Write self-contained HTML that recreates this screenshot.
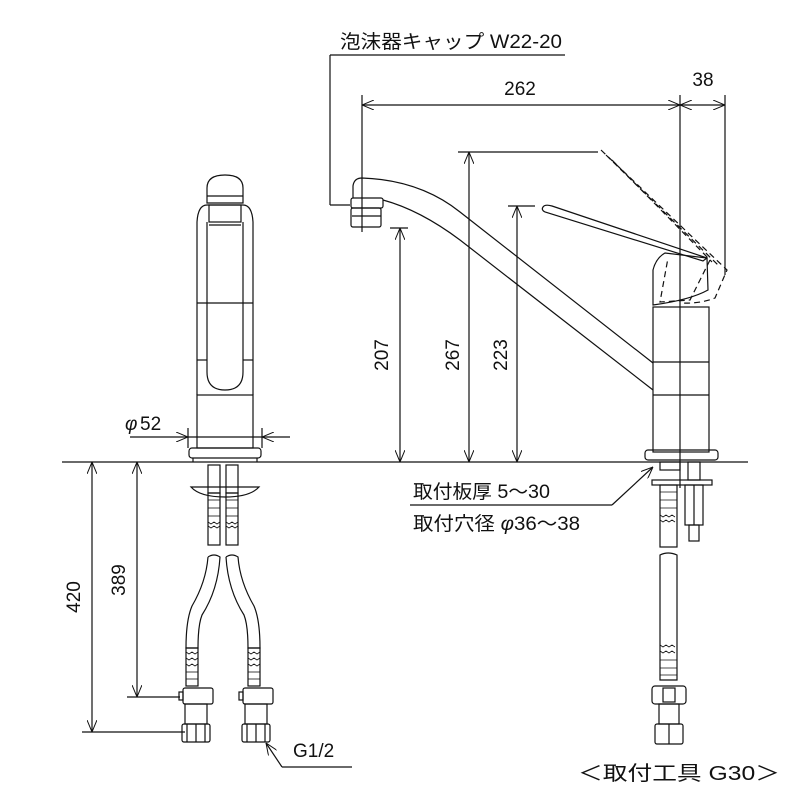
<!DOCTYPE html>
<html><head><meta charset="utf-8"><style>
html,body{margin:0;padding:0;background:#fff;}
svg{display:block;}
text{font-family:"Liberation Sans","Noto Sans CJK JP",sans-serif;fill:#111;}
</style></head><body>
<svg width="800" height="800" viewBox="0 0 800 800" xmlns="http://www.w3.org/2000/svg">
<defs>
<marker id="a" viewBox="0 0 12 10" refX="12" refY="5" markerWidth="12" markerHeight="10" markerUnits="userSpaceOnUse" orient="auto-start-reverse">
<path d="M0,0 L12,5 L0,10" fill="none" stroke="#111" stroke-width="1"/>
</marker>
</defs>
<g fill="none" stroke="#111" stroke-width="1.2">
<line x1="62" y1="462" x2="748" y2="462"/>

<!-- FRONT VIEW -->
<path d="M207,203 L207,188 Q207,175 225,175 Q243,175 243,188 L243,203 Z" fill="#fff"/>
<line x1="207" y1="196" x2="243" y2="196"/>
<path d="M197,303 L197,222 Q198,205 207,205 L243,205 Q252,205 253,222 L253,303"/>
<rect x="209" y="205" width="32" height="17"/>
<line x1="209" y1="225" x2="241" y2="225"/>
<line x1="197" y1="303" x2="253" y2="303"/>
<line x1="197" y1="303" x2="197" y2="395"/>
<line x1="253" y1="303" x2="253" y2="395"/>
<line x1="197" y1="360" x2="207" y2="360"/><line x1="243" y1="360" x2="253" y2="360"/>
<path d="M207,222 L207,372 Q207,390 225,390 Q243,390 243,372 L243,222"/>
<rect x="197" y="395" width="56" height="53"/>
<rect x="189" y="448" width="72" height="10" rx="3"/>
<line x1="193" y1="458" x2="193" y2="462"/><line x1="257" y1="458" x2="257" y2="462"/>
<line x1="188" y1="428" x2="188" y2="448"/><line x1="262" y1="428" x2="262" y2="448"/>
<line x1="130" y1="437" x2="188" y2="437" marker-end="url(#a)"/>
<line x1="290" y1="437" x2="262" y2="437" marker-end="url(#a)"/>
<line x1="188" y1="437" x2="262" y2="437"/>

<rect x="208" y="465" width="12" height="28"/><rect x="226" y="465" width="12" height="28"/>
<path d="M191,487 L259,487 Q250,497 225,497 Q200,497 191,487 Z"/>
<rect x="208" y="493" width="12" height="52"/><rect x="226" y="493" width="12" height="52"/>
<g stroke-width="0.8">
<line x1="208" y1="500" x2="220" y2="500"/><line x1="208" y1="508" x2="220" y2="508"/><line x1="208" y1="516" x2="220" y2="516"/>
<line x1="226" y1="500" x2="238" y2="500"/><line x1="226" y1="508" x2="238" y2="508"/><line x1="226" y1="516" x2="238" y2="516"/>
<path d="M208,522 l3,2 3,-2 3,2 3,-2 M208,526 l3,2 3,-2 3,2 3,-2 M226,522 l3,2 3,-2 3,2 3,-2 M226,526 l3,2 3,-2 3,2 3,-2"/>
</g>
<path d="M208,557 Q214,553 220,557 Q218,590 202,615 Q198,625 198,648 L186,648 Q186,620 192,606 Q206,582 208,557"/>
<path d="M226,557 Q232,553 238,557 Q240,582 254,606 Q260,620 260,648 L248,648 Q248,625 244,615 Q228,590 226,557"/>
<rect x="186" y="648" width="12" height="38"/><rect x="248" y="648" width="12" height="38"/>
<g stroke-width="0.8">
<path d="M186,652 l3,2 3,-2 3,2 3,-2 M186,658 l3,2 3,-2 3,2 3,-2 M186,664 l3,2 3,-2 3,2 3,-2 M248,652 l3,2 3,-2 3,2 3,-2 M248,658 l3,2 3,-2 3,2 3,-2 M248,664 l3,2 3,-2 3,2 3,-2"/>
<line x1="186" y1="672" x2="198" y2="672"/><line x1="186" y1="679" x2="198" y2="679"/>
<line x1="248" y1="672" x2="260" y2="672"/><line x1="248" y1="679" x2="260" y2="679"/>
</g>
<rect x="183" y="688" width="30" height="16" rx="2"/><rect x="179" y="692" width="4" height="8"/>
<rect x="243" y="688" width="30" height="16" rx="2"/><rect x="239" y="692" width="4" height="8"/>
<rect x="185" y="704" width="22" height="20"/><rect x="245" y="704" width="22" height="20"/>
<rect x="182" y="724" width="28" height="18" rx="2"/><line x1="196" y1="724" x2="196" y2="742"/><line x1="187" y1="724" x2="187" y2="742"/><line x1="205" y1="724" x2="205" y2="742"/>
<rect x="242" y="724" width="28" height="18" rx="2"/><line x1="256" y1="724" x2="256" y2="742"/><line x1="247" y1="724" x2="247" y2="742"/><line x1="265" y1="724" x2="265" y2="742"/>
<line x1="282" y1="767" x2="266" y2="743" marker-end="url(#a)"/><line x1="282" y1="767" x2="352" y2="767"/>

<line x1="92" y1="462" x2="92" y2="732" marker-start="url(#a)" marker-end="url(#a)"/>
<line x1="82" y1="732" x2="185" y2="732"/>
<line x1="137" y1="462" x2="137" y2="697" marker-start="url(#a)" marker-end="url(#a)"/>
<line x1="127" y1="697" x2="180" y2="697"/>

<!-- SIDE VIEW -->
<path d="M383,200 Q420,210 460,240 L653,390"/>
<path d="M353,198 L353,186 Q354,178 362,178 Q420,180 460,212 L653,363"/>
<rect x="351" y="198" width="32" height="10" rx="2"/>
<rect x="351" y="208" width="30" height="19" rx="2"/>
<line x1="352" y1="216" x2="381" y2="216"/>
<rect x="653" y="307" width="56" height="145"/>
<line x1="653" y1="362" x2="709" y2="362"/><line x1="653" y1="395" x2="709" y2="395"/>
<rect x="645" y="450" width="73" height="10" rx="3"/>
<path d="M653,305 L653,270 Q656,258 665,253 L707,258 L708,290 Q690,300 653,305 Z" fill="#fff"/>
<path d="M543,207 Q545,204 552,206 L707,258 L703,261 L545,212 Q541,210 543,207 Z"/>
<g stroke-dasharray="6,4">
<path d="M601,150 L727,270 L715,298 Q700,304 680,303"/>
<path d="M606,155 L718,265"/>
<path d="M612,160 L712,262"/>
<path d="M710,260 L690,300 L660,302 L668,258"/>
</g>
<line x1="680" y1="95" x2="680" y2="488"/>
<line x1="725" y1="95" x2="725" y2="275"/>
<line x1="362" y1="95" x2="362" y2="232"/>
<line x1="362" y1="105" x2="680" y2="105" marker-start="url(#a)" marker-end="url(#a)"/>
<line x1="680" y1="105" x2="725" y2="105" marker-start="url(#a)" marker-end="url(#a)"/>
<line x1="330" y1="55" x2="565" y2="55"/>
<line x1="330" y1="55" x2="330" y2="205"/>
<line x1="330" y1="205" x2="350" y2="205"/>
<line x1="390" y1="228" x2="408" y2="228"/>
<line x1="400" y1="228" x2="400" y2="462" marker-start="url(#a)" marker-end="url(#a)"/>
<line x1="458" y1="152" x2="598" y2="152"/>
<line x1="469" y1="152" x2="469" y2="462" marker-start="url(#a)" marker-end="url(#a)"/>
<line x1="508" y1="206" x2="535" y2="206"/>
<line x1="517" y1="206" x2="517" y2="462" marker-start="url(#a)" marker-end="url(#a)"/>

<rect x="660" y="462" width="20" height="8"/>
<rect x="652" y="480" width="60" height="5"/>
<rect x="688" y="462" width="12" height="18"/>
<rect x="685" y="485" width="18" height="40"/>
<line x1="694" y1="485" x2="694" y2="525"/>
<rect x="689" y="525" width="10" height="16"/>
<rect x="660" y="485" width="17" height="62"/>
<g stroke-width="0.8">
<line x1="660" y1="492" x2="677" y2="492"/><line x1="660" y1="500" x2="677" y2="500"/><line x1="660" y1="508" x2="677" y2="508"/>
<path d="M660,515 l3,2 3,-2 3,2 3,-2 3,2 M660,520 l3,2 3,-2 3,2 3,-2 3,2"/>
</g>
<path d="M660,555 Q668,551 677,555 L677,680 L660,680 Z"/>
<g stroke-width="0.8">
<path d="M660,645 l3,2 3,-2 3,2 3,-2 3,2 M660,651 l3,2 3,-2 3,2 3,-2 3,2"/>
<line x1="660" y1="660" x2="677" y2="660"/><line x1="660" y1="668" x2="677" y2="668"/><line x1="660" y1="675" x2="677" y2="675"/>
</g>
<rect x="652" y="686" width="34" height="18" rx="3"/>
<rect x="663" y="688" width="12" height="14"/>
<rect x="659" y="704" width="20" height="20"/>
<rect x="655" y="724" width="28" height="20" rx="2"/><line x1="669" y1="724" x2="669" y2="744"/>
<line x1="410" y1="505" x2="612" y2="505"/>
<line x1="612" y1="505" x2="653" y2="467" marker-end="url(#a)"/>
</g>

<g font-size="19">
<text x="340" y="48" textLength="222" lengthAdjust="spacingAndGlyphs">泡沫器キャップ W22-20</text>
<text x="520" y="95" text-anchor="middle">262</text>
<text x="703" y="86" text-anchor="middle">38</text>
<text transform="translate(388,355) rotate(-90)" text-anchor="middle">207</text>
<text transform="translate(459,355) rotate(-90)" text-anchor="middle">267</text>
<text transform="translate(507,355) rotate(-90)" text-anchor="middle">223</text>
<text transform="translate(80,597) rotate(-90)" text-anchor="middle">420</text>
<text transform="translate(125,580) rotate(-90)" text-anchor="middle">389</text>
<text x="125" y="430" font-style="italic">φ</text><text x="140" y="430">52</text>
<text x="413" y="498" textLength="137" lengthAdjust="spacingAndGlyphs">取付板厚 5〜30</text>
<text x="413" y="530" textLength="167" lengthAdjust="spacingAndGlyphs">取付穴径 <tspan font-style="italic">φ</tspan>36〜38</text>
<text x="293" y="757">G1/2</text>
<text x="578" y="780" font-size="20" textLength="202" lengthAdjust="spacingAndGlyphs">＜取付工具 G30＞</text>
</g>
</svg>
</body></html>
